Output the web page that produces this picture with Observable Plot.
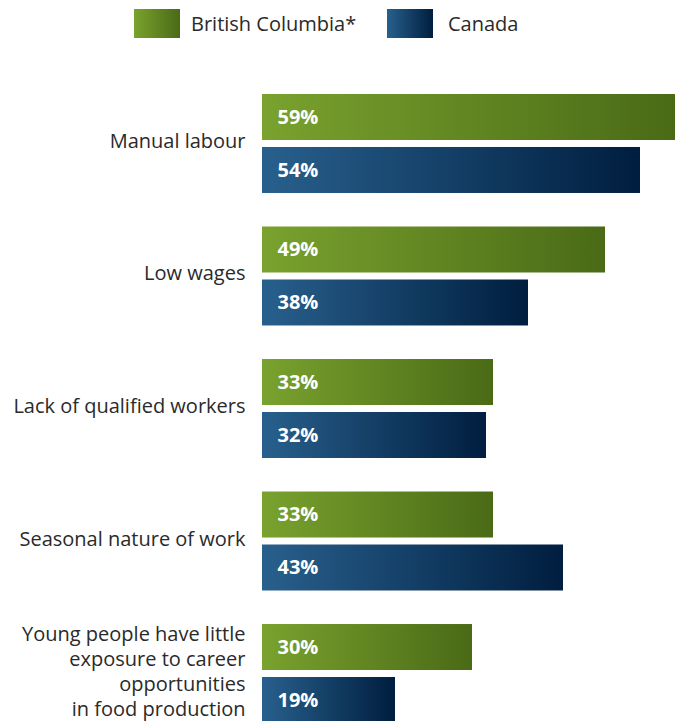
<!DOCTYPE html>
<html>
<head>
<meta charset="utf-8">
<script src="https://cdn.jsdelivr.net/npm/d3@7"></script>
<script src="https://cdn.jsdelivr.net/npm/@observablehq/plot@0.6"></script>
<style>
  html, body { margin: 0; padding: 0; background: #fff; }
  body { width: 681px; height: 721px; overflow: hidden; font-family: "Open Sans", sans-serif; }
  .legend { position: relative; height: 50px; }
  .sw { position: absolute; top: 9px; width: 46px; height: 29px; }
  .lt { position: absolute; top: 9px; font-size: 20px; line-height: 30px; color: #2a2a2a; }
  svg { display: block; }
</style>
</head>
<body>
<div class="legend" id="legend"></div>
<div id="chart"></div>
<script>
const categories = [
  "Manual labour",
  "Low wages",
  "Lack of qualified workers",
  "Seasonal nature of work",
  "Young people have little\nexposure to career\nopportunities\nin food production"
];
const series = ["British Columbia*", "Canada"];
const bcValues = [59, 49, 33, 33, 30];
const canadaValues = [54, 38, 32, 43, 19];

const gradients = {
  "British Columbia*": ["#79a22e", "#4a6a16"],
  "Canada": ["#28608d", "#001e3f"]
};
const gradId = {"British Columbia*": "gradBC", "Canada": "gradCA"};

const data = [];
categories.forEach((c, i) => {
  data.push({category: c, series: series[0], value: bcValues[i]});
  data.push({category: c, series: series[1], value: canadaValues[i]});
});

// Legend
const legend = document.getElementById("legend");
const legendPos = [{sw: 134, tx: 191}, {sw: 387, tx: 448}];
series.forEach((s, i) => {
  const sw = document.createElement("div");
  sw.className = "sw";
  sw.style.left = legendPos[i].sw + "px";
  sw.style.background = `linear-gradient(to right, ${gradients[s][0]}, ${gradients[s][1]})`;
  legend.appendChild(sw);
  const t = document.createElement("div");
  t.className = "lt";
  t.style.left = legendPos[i].tx + "px";
  t.textContent = s;
  legend.appendChild(t);
});

const chart = Plot.plot({
  width: 681,
  height: 673,
  marginLeft: 262,
  marginRight: 6,
  marginTop: 44,
  marginBottom: 0,
  x: {domain: [0, 59], axis: null},
  y: {domain: series, axis: null, paddingInner: 0.132, paddingOuter: 0, round: false},
  fy: {domain: categories, axis: null, paddingInner: 0.253, paddingOuter: 0, round: false},
  marks: [
    Plot.barX(data.filter(d => d.series === series[0]), {fy: "category", y: "series", x: "value", fill: "url(#gradBC)"}),
    Plot.barX(data.filter(d => d.series === series[1]), {fy: "category", y: "series", x: "value", fill: "url(#gradCA)"}),
    Plot.text(data, {fy: "category", y: "series", x: 0, text: d => d.value + "%", dx: 15, textAnchor: "start", fill: "white", fontWeight: "bold", fontSize: 20}),
    Plot.text(categories, {fy: d => d, frameAnchor: "left", text: d => d, textAnchor: "end", dx: -17, dy: -4, fontSize: 20, lineHeight: 1.25, fill: "#2a2a2a"})
  ]
});

const ns = "http://www.w3.org/2000/svg";
const defs = document.createElementNS(ns, "defs");
series.forEach(s => {
  const g = document.createElementNS(ns, "linearGradient");
  g.setAttribute("id", gradId[s]);
  g.setAttribute("x1", "0"); g.setAttribute("x2", "1");
  g.setAttribute("y1", "0"); g.setAttribute("y2", "0");
  [[0, gradients[s][0]], [1, gradients[s][1]]].forEach(([o, c]) => {
    const st = document.createElementNS(ns, "stop");
    st.setAttribute("offset", o);
    st.setAttribute("stop-color", c);
    g.appendChild(st);
  });
  defs.appendChild(g);
});
chart.insertBefore(defs, chart.firstChild);
chart.style.fontFamily = '"Open Sans", sans-serif';
document.getElementById("chart").appendChild(chart);
</script>
</body>
</html>
